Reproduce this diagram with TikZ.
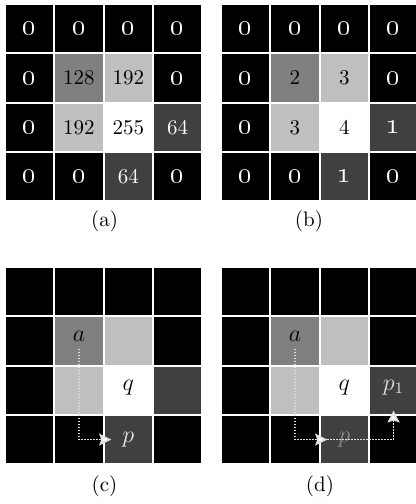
\documentclass[tikz,border=0pt]{standalone}
\usepackage{tikz}
\usetikzlibrary{arrows.meta,positioning}

% grey levels 0..4 and the ink that reads on them
\colorlet{lvl0}{black}
\colorlet{lvl1}{black!75}
\colorlet{lvl2}{black!50}
\colorlet{lvl3}{black!25}
\colorlet{lvl4}{white}
\colorlet{ink0}{white}
\colorlet{ink1}{white}
\colorlet{ink2}{black}
\colorlet{ink3}{black}
\colorlet{ink4}{black}

\newcommand{\osf}[1]{{\fontsize{13.5}{14}\selectfont\oldstylenums{#1}}}
\newcommand{\intensity}[1]{\ifcase#1 \osf{0}\or 64\or 128\or 192\or 255\fi}
\newcommand{\rank}[1]{\ifcase#1 \osf{0}\or \osf{1}\or 2\or 3\or 4\fi}
\newcommand{\blankcell}[1]{}

\begin{document}
\begin{tikzpicture}[x=.5pt,y=-.5pt,
  pixel/.style={minimum size=23.65pt,inner sep=0pt,
    font=\fontsize{10.5}{12}\selectfont},
  letter/.style={inner sep=3.5pt,font=\fontsize{11.5}{13}\selectfont},
  sublabel/.style={inner sep=0pt,font=\fontsize{10.5}{12}\selectfont},
  trace/.style={draw=black!12,line width=.9pt,dash pattern=on .75pt off .75pt},
  walk/.style={trace,-{Stealth[length=6pt,width=6pt,inset=1pt,fill=white]}}
]
\useasboundingbox (0,0) rectangle (416,504);

% The same 4x4 level map in all four panels.
\foreach \grid/\gx/\gy/\cellfmt in
    {a/6/5/\intensity,b/222/5/\rank,c/6/268/\blankcell,d/222/268/\blankcell}{
  \foreach \levels [count=\r from 0] in
      {{0,0,0,0},{0,2,3,0},{0,3,4,1},{0,0,1,0}}{
    \foreach \v [count=\c from 0] in \levels{
      \node[pixel,fill=lvl\v,text=ink\v] (\grid-\r-\c)
        at (\gx+23.65+49.3*\c,\gy+23.65+49.3*\r) {\cellfmt{\v}};
    }
  }
}

\foreach \grid/\lx/\ly in {a/104.5/221,b/309/221,c/104.5/486,d/320/486}
  \node[sublabel] (caption-\grid) at (\lx,\ly) {(\grid)};

% Panel (c): path from a to p.
\node[letter] (c-a) at ([yshift=2.4pt]c-1-1.center) {$a$};
\node[letter] (c-q) at ([yshift=1.5pt]c-2-2.center) {$q$};
\node[letter,text=black!8] (c-p) at (c-3-2) {$p$};
\draw[walk] (c-a.south) |- ([xshift=3.5pt]c-3-2.west);

% Panel (d): the path goes on past p to p_1.
\node[letter] (d-a) at ([yshift=2.4pt]d-1-1.center) {$a$};
\node[letter] (d-q) at ([yshift=1.5pt]d-2-2.center) {$q$};
\node[letter,text=black!45] (d-p) at (d-3-2) {$p$};
\node[letter,text=black!12] (d-p1) at ([yshift=1.5pt]d-2-3.center) {$p_1$};
\draw[walk] (d-a.south) |- ([xshift=3.5pt]d-3-2.west);
\draw[walk] ([xshift=3.5pt]d-3-2.west) -| ([yshift=2.5pt]d-3-3.north);
\end{tikzpicture}
\end{document}
